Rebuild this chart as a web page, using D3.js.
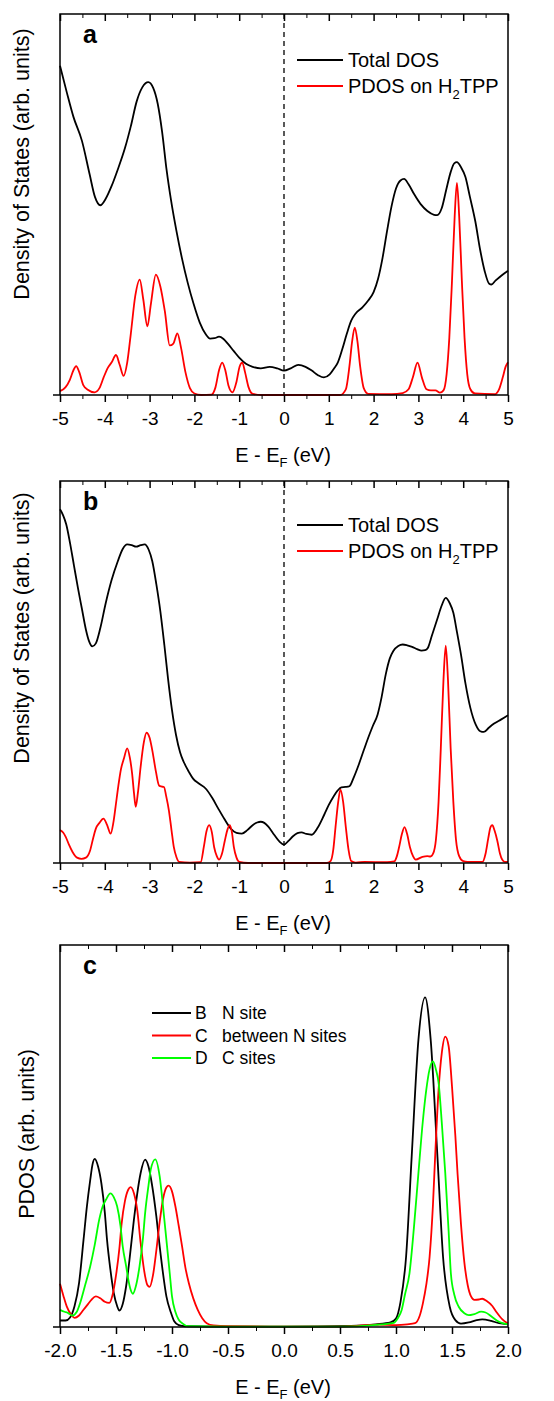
<!DOCTYPE html>
<html>
<head>
<meta charset="utf-8">
<script src="https://cdn.jsdelivr.net/npm/d3@7"></script>
<style>
body { margin: 0; background: #fff; }
text { font-family: Arial, "Liberation Sans", sans-serif; fill: #000; }
</style>
</head>
<body>
<div id="chart"></div>
<script>
// values: [E - EF (eV), DOS in arb. units, 0..100 = frame height]

// panel a
var totalA = [[-5.00, 86.4], [-4.85, 79.5], [-4.70, 73.0], [-4.51, 66.7], [-4.34, 58.0], [-4.22, 52.0], [-4.10, 49.8], [-3.98, 51.5], [-3.85, 54.8], [-3.71, 59.2], [-3.55, 64.8], [-3.42, 70.5], [-3.29, 77.0], [-3.16, 80.8], [-3.03, 82.1], [-2.92, 80.6], [-2.82, 76.5], [-2.72, 69.0], [-2.62, 59.0], [-2.52, 51.0], [-2.40, 43.0], [-2.28, 36.0], [-2.15, 29.5], [-2.02, 24.0], [-1.88, 19.0], [-1.75, 16.0], [-1.65, 14.8], [-1.55, 14.9], [-1.45, 15.3], [-1.35, 14.7], [-1.25, 13.4], [-1.12, 11.5], [-1.00, 9.8], [-0.85, 8.2], [-0.70, 7.4], [-0.52, 7.0], [-0.32, 7.4], [-0.15, 7.0], [0.00, 6.4], [0.15, 7.0], [0.32, 7.9], [0.48, 7.4], [0.62, 6.4], [0.76, 5.2], [0.89, 4.6], [1.02, 5.4], [1.12, 7.0], [1.20, 8.5], [1.30, 12.0], [1.40, 16.0], [1.50, 19.5], [1.60, 21.4], [1.75, 23.0], [1.88, 24.8], [2.00, 27.0], [2.10, 30.5], [2.20, 36.0], [2.30, 43.0], [2.40, 49.5], [2.50, 54.2], [2.60, 56.3], [2.68, 56.7], [2.78, 55.3], [2.90, 52.8], [3.05, 50.1], [3.20, 48.3], [3.35, 47.3], [3.42, 47.2], [3.52, 49.0], [3.62, 53.8], [3.72, 58.5], [3.80, 60.8], [3.86, 61.1], [3.95, 59.8], [4.05, 57.2], [4.15, 52.0], [4.27, 45.6], [4.38, 38.0], [4.48, 32.5], [4.58, 29.2], [4.63, 29.0], [4.72, 30.0], [4.85, 31.3], [5.00, 32.6]]

var pdosA = [[-5.00, 1.0], [-4.88, 2.0], [-4.78, 4.0], [-4.70, 6.5], [-4.64, 7.6], [-4.57, 6.0], [-4.48, 2.6], [-4.38, 1.4], [-4.23, 0.7], [-4.12, 1.8], [-4.03, 4.5], [-3.93, 7.2], [-3.85, 8.5], [-3.75, 10.5], [-3.67, 8.0], [-3.58, 5.0], [-3.50, 8.5], [-3.42, 16.0], [-3.32, 26.0], [-3.22, 30.3], [-3.14, 25.0], [-3.05, 18.0], [-2.97, 24.0], [-2.86, 31.6], [-2.76, 28.5], [-2.66, 22.0], [-2.55, 13.0], [-2.47, 13.5], [-2.38, 16.2], [-2.30, 12.5], [-2.20, 6.0], [-2.10, 1.8], [-2.00, 0.4], [-1.85, 0.0], [-1.62, 0.1], [-1.53, 2.0], [-1.45, 6.5], [-1.38, 8.5], [-1.31, 6.5], [-1.24, 2.5], [-1.15, 0.7], [-1.06, 3.5], [-0.99, 7.5], [-0.93, 8.5], [-0.87, 6.0], [-0.79, 2.0], [-0.70, 0.3], [-0.50, 0.0], [1.25, 0.0], [1.38, 1.5], [1.46, 7.5], [1.52, 14.0], [1.58, 17.7], [1.64, 14.0], [1.70, 7.5], [1.78, 1.8], [1.88, 0.3], [2.40, 0.2], [2.65, 0.5], [2.78, 1.5], [2.88, 4.8], [2.98, 8.5], [3.08, 4.5], [3.18, 1.5], [3.28, 1.2], [3.38, 1.2], [3.48, 0.6], [3.56, 1.2], [3.63, 5.5], [3.69, 15.0], [3.75, 30.0], [3.81, 47.0], [3.86, 55.7], [3.91, 47.0], [3.97, 30.0], [4.03, 15.0], [4.09, 5.5], [4.16, 1.5], [4.26, 0.4], [4.70, 0.2], [4.80, 1.5], [4.88, 4.5], [4.95, 7.5], [5.00, 8.6]]

// panel b
var totalB = [[-5.00, 92.6], [-4.93, 91.0], [-4.86, 88.6], [-4.78, 84.0], [-4.69, 78.0], [-4.60, 72.0], [-4.51, 66.5], [-4.42, 61.0], [-4.35, 58.0], [-4.28, 56.7], [-4.20, 57.5], [-4.10, 61.5], [-3.98, 68.0], [-3.85, 74.0], [-3.71, 79.0], [-3.60, 82.2], [-3.50, 83.4], [-3.40, 83.2], [-3.30, 82.8], [-3.20, 83.2], [-3.11, 83.4], [-3.02, 82.0], [-2.94, 79.0], [-2.85, 73.0], [-2.76, 65.9], [-2.67, 57.0], [-2.59, 48.4], [-2.50, 40.0], [-2.41, 33.5], [-2.32, 29.0], [-2.24, 26.5], [-2.12, 23.8], [-2.03, 22.1], [-1.90, 20.8], [-1.75, 19.5], [-1.60, 17.0], [-1.47, 14.3], [-1.33, 11.5], [-1.19, 9.0], [-1.06, 7.9], [-0.94, 7.7], [-0.82, 8.6], [-0.70, 9.9], [-0.60, 10.6], [-0.52, 10.8], [-0.44, 10.5], [-0.35, 9.5], [-0.22, 7.4], [-0.10, 5.6], [0.00, 4.8], [0.10, 5.8], [0.20, 7.0], [0.30, 7.8], [0.39, 8.0], [0.50, 7.6], [0.62, 7.4], [0.75, 9.2], [0.90, 12.7], [1.00, 15.2], [1.11, 17.5], [1.20, 19.0], [1.28, 19.8], [1.37, 19.9], [1.46, 20.1], [1.56, 22.5], [1.67, 25.8], [1.78, 29.5], [1.88, 32.8], [1.98, 35.8], [2.09, 38.9], [2.18, 43.5], [2.27, 49.3], [2.36, 53.5], [2.44, 55.5], [2.55, 56.8], [2.65, 57.2], [2.75, 57.0], [2.86, 56.6], [2.97, 56.0], [3.07, 55.6], [3.15, 55.7], [3.21, 56.3], [3.30, 59.5], [3.42, 63.8], [3.52, 67.4], [3.61, 69.4], [3.70, 68.0], [3.78, 65.5], [3.86, 60.5], [3.95, 54.6], [4.05, 47.0], [4.16, 40.6], [4.28, 36.2], [4.38, 34.5], [4.46, 34.3], [4.57, 35.4], [4.69, 36.5], [4.85, 37.6], [5.00, 38.7]]

var pdosB = [[-5.00, 8.6], [-4.93, 8.0], [-4.87, 6.8], [-4.80, 4.8], [-4.72, 2.9], [-4.62, 1.4], [-4.52, 1.1], [-4.42, 1.4], [-4.33, 3.2], [-4.26, 6.5], [-4.20, 9.0], [-4.12, 10.5], [-4.03, 11.6], [-3.95, 10.0], [-3.87, 7.7], [-3.81, 10.5], [-3.76, 14.7], [-3.70, 20.0], [-3.64, 24.5], [-3.57, 27.5], [-3.50, 30.0], [-3.44, 27.5], [-3.39, 23.4], [-3.35, 18.5], [-3.31, 14.7], [-3.26, 18.5], [-3.20, 25.2], [-3.13, 31.5], [-3.07, 34.1], [-3.00, 32.8], [-2.94, 29.5], [-2.86, 24.0], [-2.79, 20.3], [-2.73, 20.0], [-2.68, 19.9], [-2.63, 17.5], [-2.57, 13.8], [-2.51, 8.5], [-2.46, 4.2], [-2.40, 1.5], [-2.34, 0.3], [-2.10, 0.1], [-1.86, 0.2], [-1.79, 4.2], [-1.73, 8.3], [-1.67, 9.9], [-1.61, 8.0], [-1.56, 4.2], [-1.50, 1.8], [-1.45, 0.9], [-1.38, 2.6], [-1.32, 5.9], [-1.26, 8.8], [-1.21, 9.9], [-1.16, 7.8], [-1.12, 4.2], [-1.06, 1.4], [-1.00, 0.3], [-0.80, 0.0], [0.95, 0.0], [1.04, 0.5], [1.10, 3.5], [1.15, 9.4], [1.21, 16.0], [1.26, 19.2], [1.32, 16.0], [1.38, 9.4], [1.44, 3.5], [1.50, 0.5], [1.60, 0.1], [1.80, 0.3], [2.30, 0.2], [2.46, 0.4], [2.52, 1.8], [2.57, 4.2], [2.63, 7.5], [2.69, 9.4], [2.75, 7.5], [2.81, 4.2], [2.88, 1.8], [2.94, 0.9], [3.09, 1.6], [3.20, 1.8], [3.27, 1.7], [3.33, 2.5], [3.39, 6.0], [3.45, 16.0], [3.50, 30.0], [3.56, 48.0], [3.61, 56.9], [3.66, 48.0], [3.72, 30.0], [3.78, 16.0], [3.84, 6.0], [3.91, 1.8], [4.00, 0.5], [4.10, 0.3], [4.43, 0.3], [4.50, 2.5], [4.56, 6.5], [4.61, 9.4], [4.65, 9.9], [4.70, 8.5], [4.76, 5.9], [4.82, 2.5], [4.87, 0.9], [4.93, 0.3], [5.00, 0.3]]

// panel c
var siteB = [[-2.00, 1.7], [-1.95, 1.7], [-1.91, 2.5], [-1.87, 5.5], [-1.83, 11.5], [-1.79, 22.8], [-1.76, 31.5], [-1.73, 38.5], [-1.71, 42.5], [-1.69, 44.0], [-1.66, 42.0], [-1.63, 37.5], [-1.60, 30.0], [-1.58, 22.8], [-1.55, 15.0], [-1.52, 8.9], [-1.49, 5.5], [-1.47, 4.3], [-1.44, 6.0], [-1.41, 10.6], [-1.38, 17.5], [-1.34, 28.1], [-1.31, 35.0], [-1.28, 40.3], [-1.24, 43.8], [-1.21, 42.0], [-1.18, 37.5], [-1.14, 29.0], [-1.11, 21.1], [-1.08, 14.0], [-1.05, 8.0], [-1.01, 3.8], [-0.98, 1.5], [-0.94, 0.5], [-0.88, 0.2], [-0.50, 0.1], [0.00, 0.1], [0.60, 0.3], [0.82, 0.7], [0.95, 1.2], [1.00, 2.2], [1.04, 6.5], [1.09, 18.4], [1.14, 44.6], [1.20, 75.1], [1.26, 86.3], [1.31, 75.1], [1.37, 44.6], [1.42, 18.4], [1.48, 5.3], [1.53, 1.8], [1.58, 0.9], [1.65, 1.2], [1.72, 1.8], [1.77, 2.0], [1.85, 1.6], [1.92, 1.0], [2.00, 0.7]]

var siteC = [[-2.00, 11.3], [-1.97, 8.2], [-1.94, 5.4], [-1.90, 3.2], [-1.87, 2.4], [-1.83, 3.0], [-1.79, 4.5], [-1.75, 6.0], [-1.72, 7.1], [-1.68, 8.0], [-1.64, 7.5], [-1.60, 6.6], [-1.56, 6.3], [-1.53, 8.5], [-1.50, 13.5], [-1.47, 20.5], [-1.45, 27.0], [-1.42, 33.0], [-1.39, 36.0], [-1.37, 36.6], [-1.34, 35.0], [-1.31, 30.5], [-1.28, 22.0], [-1.25, 15.0], [-1.22, 11.0], [-1.20, 10.5], [-1.17, 13.5], [-1.14, 20.0], [-1.11, 27.5], [-1.08, 33.5], [-1.05, 36.5], [-1.03, 37.0], [-1.00, 35.5], [-0.97, 31.6], [-0.94, 26.5], [-0.91, 21.1], [-0.88, 15.5], [-0.85, 11.5], [-0.81, 7.5], [-0.77, 4.5], [-0.73, 2.3], [-0.69, 1.0], [-0.63, 0.4], [-0.50, 0.2], [0.00, 0.1], [0.50, 0.1], [0.85, 0.6], [1.00, 0.5], [1.10, 0.7], [1.17, 1.0], [1.21, 2.8], [1.24, 6.2], [1.27, 11.0], [1.30, 18.4], [1.33, 32.0], [1.35, 45.0], [1.38, 62.0], [1.41, 72.0], [1.44, 76.0], [1.47, 73.5], [1.50, 63.0], [1.53, 50.0], [1.55, 40.0], [1.58, 27.0], [1.61, 17.0], [1.64, 11.0], [1.67, 8.0], [1.70, 7.1], [1.74, 7.2], [1.77, 7.4], [1.81, 6.8], [1.86, 5.5], [1.90, 3.8], [1.95, 2.0], [2.00, 0.9]]

var siteD = [[-2.00, 4.5], [-1.96, 4.0], [-1.93, 3.7], [-1.89, 3.0], [-1.85, 4.0], [-1.82, 6.3], [-1.78, 10.5], [-1.73, 15.9], [-1.69, 21.5], [-1.65, 28.1], [-1.62, 31.5], [-1.59, 33.3], [-1.55, 35.0], [-1.52, 34.0], [-1.49, 31.6], [-1.46, 26.5], [-1.44, 21.1], [-1.41, 16.0], [-1.39, 12.4], [-1.37, 9.8], [-1.35, 8.7], [-1.32, 11.0], [-1.29, 15.9], [-1.26, 23.0], [-1.24, 29.8], [-1.21, 37.0], [-1.19, 41.2], [-1.15, 43.9], [-1.11, 39.4], [-1.08, 31.5], [-1.05, 22.8], [-1.02, 14.0], [-1.00, 8.0], [-0.97, 4.0], [-0.94, 1.9], [-0.90, 0.8], [-0.86, 0.2], [-0.50, 0.1], [0.00, 0.1], [0.50, 0.1], [0.80, 0.5], [0.98, 1.1], [1.02, 2.5], [1.05, 4.4], [1.08, 8.5], [1.12, 14.0], [1.16, 26.0], [1.20, 40.2], [1.24, 54.0], [1.27, 62.0], [1.30, 67.5], [1.33, 69.5], [1.36, 67.0], [1.38, 64.0], [1.41, 53.0], [1.44, 40.2], [1.47, 25.0], [1.49, 14.0], [1.52, 8.5], [1.56, 5.3], [1.61, 3.6], [1.65, 3.1], [1.70, 3.4], [1.76, 4.0], [1.80, 3.8], [1.85, 2.8], [1.90, 1.7], [1.95, 1.0], [2.00, 0.7]]

// ticks
var majorAB = [-5, -4, -3, -2, -1, 0, 1, 2, 3, 4, 5]
var minorAB = [-4.5, -3.5, -2.5, -1.5, -0.5, 0.5, 1.5, 2.5, 3.5, 4.5]
var majorC = [-2.0, -1.5, -1.0, -0.5, 0.0, 0.5, 1.0, 1.5, 2.0]
var minorC = [-1.75, -1.25, -0.75, -0.25, 0.25, 0.75, 1.25, 1.75]

// legends
var legendAB = ["Total DOS", "PDOS on H"]
var legendCKeys = ["B", "C", "D"]
var legendCText = ["N site", "between N sites", "C sites"]

const width = 554, height = 1401
const left = 60, right = 508

var svg = d3.select("#chart").append("svg").attr("width", width).attr("height", height)

var panels = [
    {letter: "a", top: 14, bottom: 395, domain: [-5, 5], major: majorAB, minor: minorAB, fmt: d => String(d), dashed: true,
     ylabel: "Density of States (arb. units)", ylabelX: 29, ylabelY: 164,
     series: [{data: totalA, color: "#000"}, {data: pdosA, color: "#ff0000"}]},
    {letter: "b", top: 481, bottom: 863, domain: [-5, 5], major: majorAB, minor: minorAB, fmt: d => String(d), dashed: true,
     ylabel: "Density of States (arb. units)", ylabelX: 29, ylabelY: 628,
     series: [{data: totalB, color: "#000"}, {data: pdosB, color: "#ff0000"}]},
    {letter: "c", top: 945, bottom: 1327, domain: [-2, 2], major: majorC, minor: minorC, fmt: d => d.toFixed(1), dashed: false,
     ylabel: "PDOS (arb. units)", ylabelX: 34, ylabelY: 1134,
     series: [{data: siteB, color: "#000"}, {data: siteC, color: "#ff0000"}, {data: siteD, color: "#00ff00"}]}
]

panels.forEach(drawPanel)

function drawPanel(p) {
    var x = d3.scaleLinear().domain(p.domain).range([left, right])
    var y = d3.scaleLinear().domain([0, 100]).range([p.bottom, p.top])
    var g = svg.append("g")

    // Fermi level
    if (p.dashed) {
        g.append("line").attr("x1", x(0)).attr("x2", x(0)).attr("y1", p.top).attr("y2", p.bottom)
            .attr("stroke", "#000").attr("stroke-width", 1.3).attr("stroke-dasharray", "5,4")
    }

    var line = d3.line().x(d => x(d[0])).y(d => y(d[1])).curve(d3.curveMonotoneX)
    p.series.forEach(function (s) {
        g.append("path").datum(s.data).attr("d", line).attr("fill", "none")
            .attr("stroke", s.color).attr("stroke-width", 1.8).attr("stroke-linejoin", "round")
    })

    // frame (no ticks on the y sides)
    g.append("path").attr("d", `M${left},${p.bottom}V${p.top}H${right}V${p.bottom}`)
        .attr("fill", "none").attr("stroke", "#000").attr("stroke-width", 1.5)
    g.append("line").attr("x1", left - 7).attr("x2", right).attr("y1", p.bottom).attr("y2", p.bottom)
        .attr("stroke", "#000").attr("stroke-width", 1.5)

    // bottom axis, ticks pointing out
    g.append("g").attr("transform", `translate(0,${p.bottom})`)
        .call(d3.axisBottom(x).tickValues(p.minor).tickSize(4).tickFormat(""))
        .call(a => a.select(".domain").remove())
    var bx = g.append("g").attr("transform", `translate(0,${p.bottom})`)
        .call(d3.axisBottom(x).tickValues(p.major).tickSize(7).tickPadding(9.5).tickFormat(p.fmt))
        .call(a => a.select(".domain").remove())
    bx.selectAll("line").attr("stroke-width", 1.5)
    bx.selectAll("text").attr("font-size", 19).attr("font-family", "Arial, 'Liberation Sans', sans-serif")

    // top ticks, pointing in
    g.append("g").attr("transform", `translate(0,${p.top})`)
        .call(d3.axisBottom(x).tickValues(p.minor).tickSize(4).tickFormat(""))
        .call(a => a.select(".domain").remove())
    g.append("g").attr("transform", `translate(0,${p.top})`)
        .call(d3.axisBottom(x).tickValues(p.major).tickSize(7).tickFormat(""))
        .call(a => a.select(".domain").remove())
        .selectAll("line").attr("stroke-width", 1.5)

    // axis titles
    var xt = g.append("text").attr("x", x(0) - 1).attr("y", p.bottom + 67).attr("text-anchor", "middle").attr("font-size", 20)
    xt.append("tspan").text("E - E")
    xt.append("tspan").attr("font-size", 13).attr("dy", 5).text("F")
    xt.append("tspan").attr("dy", -5).text(" (eV)")

    g.append("text").attr("transform", `translate(${p.ylabelX},${p.ylabelY}) rotate(-90)`)
        .attr("text-anchor", "middle").attr("font-size", 21.5).text(p.ylabel)

    g.append("text").attr("x", 83).attr("y", p.top + 29).attr("font-size", 25).attr("font-weight", "bold").text(p.letter)
}

// legends of a and b
var legTops = [60, 525]
legTops.forEach(function (ly) {
    var lg = svg.append("g")
    legendAB.forEach(function (d, i) {
        var yy = ly + i * 26
        lg.append("line").attr("x1", 297).attr("x2", 343).attr("y1", yy).attr("y2", yy)
            .attr("stroke", i == 0 ? "#000" : "#ff0000").attr("stroke-width", 1.8)
        var t = lg.append("text").attr("x", 348).attr("y", yy + 7).attr("font-size", 20).text(d)
        if (i == 1) {
            t.append("tspan").attr("font-size", 13).attr("dy", 6).text("2")
            t.append("tspan").attr("dy", -6).text("TPP")
        }
    })
})

// legend of c
var colorsC = ["#000", "#ff0000", "#00ff00"]
legendCKeys.forEach(function (d, i) {
    var yy = 1013 + i * 22.5
    svg.append("line").attr("x1", 152).attr("x2", 191).attr("y1", yy).attr("y2", yy)
        .attr("stroke", colorsC[i]).attr("stroke-width", 1.8)
    svg.append("text").attr("x", 195).attr("y", yy + 6).attr("font-size", 17.5).text(d)
    svg.append("text").attr("x", 222).attr("y", yy + 6).attr("font-size", 17.5).text(legendCText[i])
})
</script>
</body>
</html>
